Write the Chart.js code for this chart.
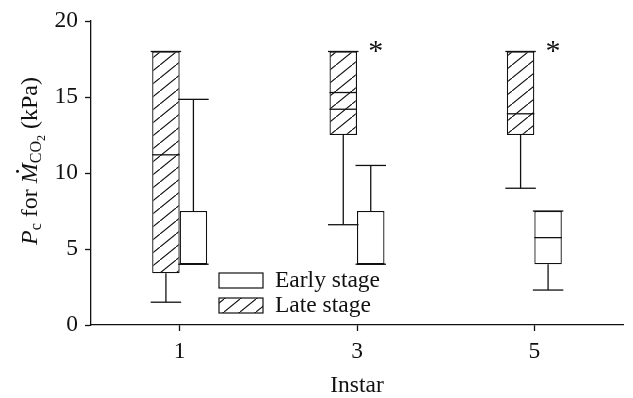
<!DOCTYPE html>
<html>
<head>
<meta charset="utf-8">
<script src="https://cdn.jsdelivr.net/npm/chart.js@4.4.1/dist/chart.umd.min.js"></script>
<style>
  html, body { margin: 0; padding: 0; background: #fff; }
</style>
</head>
<body>
<canvas id="chart" width="633" height="398"></canvas>
<script>
const instars = ['1', '3', '5'];

// late stage (hatched boxes)
const lateMin = [1.5, 6.6, 9.0];
const lateQ1 = [3.4, 12.5, 12.5];
const lateMedian = [11.2, 14.2, 13.9];
const lateMean = [null, 15.3, null];
const lateQ3 = [18, 18, 18];
const lateMax = [18, 18, 18];

// early stage (open boxes)
const earlyMin = [4, 4, 2.3];
const earlyQ1 = [4, 4, 4];
const earlyMedian = [4, 4, 5.75];
const earlyQ3 = [7.5, 7.5, 7.5];
const earlyMax = [14.85, 10.5, 7.5];

const significant = [false, true, true];
const yTicks = [0, 5, 10, 15, 20];

const SERIF = "'Liberation Serif', 'Times New Roman', serif";
const INK = '#111';
const FS = 23.5;

function makeHatch() {
  const w = 16, h = 13;
  const c = document.createElement('canvas');
  c.width = w;
  c.height = h;
  const g = c.getContext('2d');
  g.fillStyle = '#fff';
  g.fillRect(0, 0, w, h);
  g.strokeStyle = INK;
  g.lineWidth = 1.1;
  g.beginPath();
  g.moveTo(0, h); g.lineTo(w, 0);
  g.moveTo(-w, h * 2); g.lineTo(w * 2, -h);
  g.stroke();
  return document.getElementById('chart').getContext('2d').createPattern(c, 'repeat');
}
const hatch = makeHatch();

function seg(ctx, x1, y1, x2, y2) {
  ctx.beginPath();
  ctx.moveTo(x1, y1);
  ctx.lineTo(x2, y2);
  ctx.stroke();
}

const boxPlot = {
  id: 'boxPlot',
  afterDatasetsDraw(chart) {
    const {ctx} = chart;
    const y = chart.scales.y;
    ctx.save();
    ctx.strokeStyle = INK;
    ctx.lineWidth = 1.3;
    chart.data.datasets.forEach((ds, d) => {
      chart.getDatasetMeta(d).data.forEach((bar, i) => {
        const half = bar.width / 2;
        const cap = half + 1.5;
        const lo = y.getPixelForValue(ds.whiskerMin[i]);
        const hi = y.getPixelForValue(ds.whiskerMax[i]);
        const q1 = y.getPixelForValue(ds.data[i][0]);
        const q3 = y.getPixelForValue(ds.data[i][1]);
        if (lo > q1) seg(ctx, bar.x, q1, bar.x, lo);
        if (hi < q3) seg(ctx, bar.x, q3, bar.x, hi);
        seg(ctx, bar.x - cap, lo, bar.x + cap, lo);
        seg(ctx, bar.x - cap, hi, bar.x + cap, hi);
        ds.inner.forEach(arr => {
          if (arr[i] == null) return;
          const p = y.getPixelForValue(arr[i]);
          seg(ctx, bar.x - half, p, bar.x + half, p);
        });
      });
    });

    // significance marks
    const early = chart.getDatasetMeta(1).data;
    ctx.fillStyle = INK;
    ctx.font = '30px ' + SERIF;
    ctx.textAlign = 'center';
    ctx.textBaseline = 'alphabetic';
    significant.forEach((s, i) => {
      if (!s) return;
      ctx.fillText('*', early[i].x + 5, y.getPixelForValue(lateQ3[i]) + 9);
    });
    ctx.restore();
  },
  afterDraw(chart) {
    const {ctx, chartArea} = chart;
    ctx.save();
    ctx.strokeStyle = INK;
    ctx.fillStyle = INK;
    ctx.lineWidth = 1.2;

    // legend
    const lx = chartArea.left + 128;
    const entries = [
      {label: 'Early stage', fill: '#fff', top: 273},
      {label: 'Late stage', fill: hatch, top: 298}
    ];
    ctx.font = FS + 'px ' + SERIF;
    ctx.textAlign = 'left';
    ctx.textBaseline = 'middle';
    entries.forEach(e => {
      ctx.fillStyle = e.fill;
      ctx.fillRect(lx, e.top, 44, 15);
      ctx.strokeRect(lx, e.top, 44, 15);
      ctx.fillStyle = INK;
      ctx.fillText(e.label, lx + 56, e.top + 8);
    });

    // y axis title: P_c for Mdot_CO2 (kPa)
    const parts = [
      {t: 'P', f: 'italic 24px ' + SERIF, dy: 0},
      {t: 'c', f: '16px ' + SERIF, dy: 4},
      {t: ' for ', f: '24px ' + SERIF, dy: 0},
      {t: 'M', f: 'italic 24px ' + SERIF, dy: 0, dot: true},
      {t: 'CO', f: '16px ' + SERIF, dy: 4},
      {t: '2', f: '12px ' + SERIF, dy: 8},
      {t: ' (kPa)', f: '24px ' + SERIF, dy: 0}
    ];
    let total = 0;
    parts.forEach(p => { ctx.font = p.f; p.w = ctx.measureText(p.t).width; total += p.w; });
    ctx.translate(37, 161);
    ctx.rotate(-Math.PI / 2);
    ctx.textBaseline = 'alphabetic';
    let x = -total / 2;
    parts.forEach(p => {
      ctx.font = p.f;
      ctx.fillText(p.t, x, p.dy);
      if (p.dot) {
        ctx.beginPath();
        ctx.arc(x + p.w / 2 + 2, -19.5, 1.5, 0, Math.PI * 2);
        ctx.fill();
      }
      x += p.w;
    });
    ctx.restore();
  }
};

new Chart(document.getElementById('chart'), {
  type: 'bar',
  data: {
    labels: instars,
    datasets: [
      {
        label: 'Late stage',
        data: lateQ1.map((q, i) => [q, lateQ3[i]]),
        whiskerMin: lateMin,
        whiskerMax: lateMax,
        inner: [lateMedian, lateMean],
        backgroundColor: hatch,
        borderColor: INK,
        borderWidth: 1.3,
        borderSkipped: false
      },
      {
        label: 'Early stage',
        data: earlyQ1.map((q, i) => [q, earlyQ3[i]]),
        whiskerMin: earlyMin,
        whiskerMax: earlyMax,
        inner: [earlyMedian],
        backgroundColor: '#fff',
        borderColor: INK,
        borderWidth: 1.3,
        borderSkipped: false
      }
    ]
  },
  options: {
    responsive: false,
    animation: false,
    devicePixelRatio: 1,
    categoryPercentage: 0.31,
    barPercentage: 1.0,
    layout: {
      padding: {top: 18, right: 10, bottom: 0, left: 0}
    },
    scales: {
      x: {
        afterFit: (scale) => { scale.height = 73; },
        grid: {
          offset: false,
          drawOnChartArea: false,
          drawTicks: true,
          tickLength: 6,
          tickWidth: 1.3,
          tickColor: INK
        },
        border: {display: true, color: INK, width: 1.3},
        ticks: {
          color: INK,
          padding: 7,
          font: {family: SERIF, size: FS}
        },
        title: {
          display: true,
          text: 'Instar',
          color: INK,
          padding: {top: 0, bottom: -2},
          font: {family: SERIF, size: FS}
        }
      },
      y: {
        min: 0,
        max: 20,
        afterFit: (scale) => { scale.width = 91; },
        afterBuildTicks: (scale) => { scale.ticks = yTicks.map(v => ({value: v})); },
        grid: {
          drawOnChartArea: false,
          drawTicks: true,
          tickLength: 6,
          tickWidth: 1.3,
          tickColor: INK
        },
        border: {display: true, color: INK, width: 1.3},
        ticks: {
          color: INK,
          padding: 7,
          font: {family: SERIF, size: FS}
        }
      }
    },
    plugins: {
      legend: {display: false},
      tooltip: {enabled: false}
    }
  },
  plugins: [boxPlot]
});
</script>
</body>
</html>
